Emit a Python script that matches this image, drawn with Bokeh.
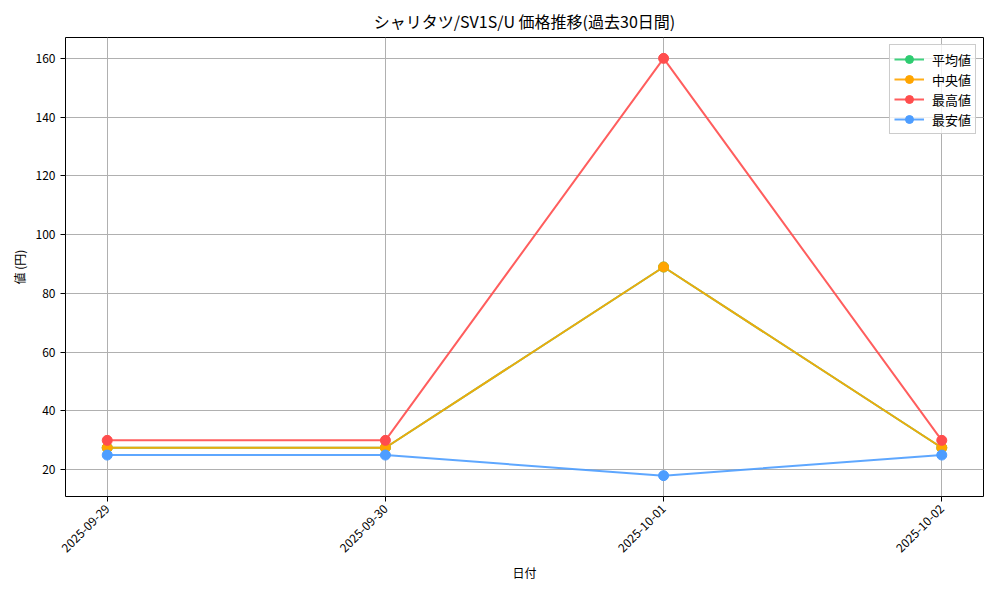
from bokeh.plotting import figure
from bokeh.models import Legend, LegendItem, Range1d, FixedTicker
from bokeh.embed import file_html
from bokeh.resources import INLINE

dates = ["2025-09-29", "2025-09-30", "2025-10-01", "2025-10-02"]
avg_price = [27.5, 27.5, 89, 27.5]
median_price = [27.5, 27.5, 89, 27.5]
max_price = [30, 30, 160, 30]
min_price = [25, 25, 18, 25]

FONT = "Noto Sans CJK JP"
x = list(range(len(dates)))

p = figure(width=984, height=584, output_backend="svg", toolbar_location=None,
           x_range=Range1d(-0.15, 3.15), y_range=Range1d(10.9, 167.1),
           min_border_left=65, min_border_right=1, min_border_top=37,
           min_border_bottom=86)

p.title.text = "シャリタツ/SV1S/U 価格推移(過去30日間)"
p.title.align = "center"
p.title.text_font = FONT
p.title.text_font_size = "16px"
p.title.text_font_style = "normal"
p.title.text_color = "black"

series = [
    ("平均値", avg_price, "#2ecc71"),
    ("中央値", median_price, "#ffa500"),
    ("最高値", max_price, "#ff4d4d"),
    ("最安値", min_price, "#4d9dff"),
]

items = []
for label, vals, color in series:
    ln = p.line(x, vals, line_color=color, line_width=2, line_alpha=0.9)
    sc = p.scatter(x, vals, size=10, fill_color=color, line_color=color)
    items.append(LegendItem(label=label, renderers=[ln, sc]))

legend = Legend(items=items, location="top_right")
legend.label_text_font = FONT
legend.label_text_font_size = "13px"
legend.label_text_color = "black"
legend.border_line_color = "#cccccc"
legend.border_line_alpha = 1
legend.background_fill_alpha = 0.8
legend.glyph_width = 30
legend.glyph_height = 20
legend.label_height = 20
legend.label_standoff = 8
legend.spacing = 0
legend.padding = 4
legend.margin = 7
p.add_layout(legend)

p.xaxis.ticker = FixedTicker(ticks=x)
p.xaxis.major_label_overrides = {i: d for i, d in enumerate(dates)}
p.xaxis.major_label_orientation = 0.785
p.xaxis.axis_label = "日付"
p.yaxis.axis_label = "値 (円)"
p.yaxis.ticker = FixedTicker(ticks=[20, 40, 60, 80, 100, 120, 140, 160])

for ax in (p.xaxis, p.yaxis):
    ax.axis_label_text_font = FONT
    ax.axis_label_text_font_size = "12px"
    ax.axis_label_text_font_style = "normal"
    ax.axis_label_text_color = "black"
    ax.major_label_text_font = FONT
    ax.major_label_text_font_size = "12px"
    ax.major_label_text_color = "black"
    ax.minor_tick_line_color = None
    ax.major_tick_out = 5
    ax.major_tick_in = 0
    ax.axis_line_color = None

p.xgrid.grid_line_color = "#b0b0b0"
p.ygrid.grid_line_color = "#b0b0b0"
p.outline_line_color = "black"
p.outline_line_width = 1

open("out.html", "w").write(file_html(p, INLINE))
